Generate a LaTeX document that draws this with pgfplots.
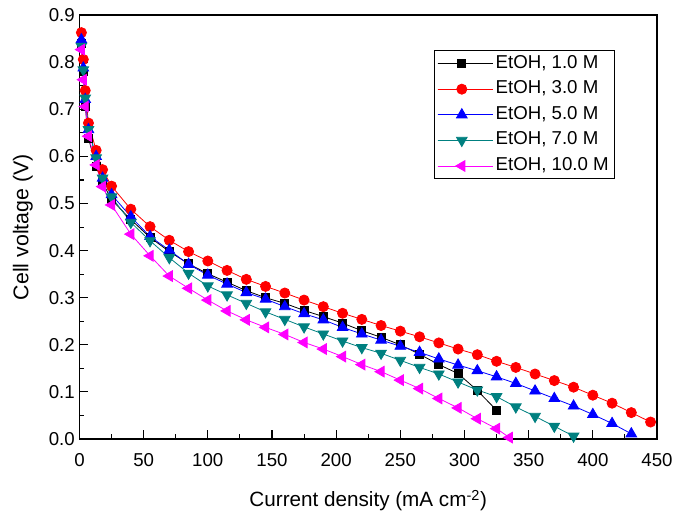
\documentclass[border=0pt]{standalone}
\usepackage{pgfplots}
\pgfplotsset{compat=1.18}
\usepackage{fontspec}
\setmainfont{Liberation Sans}
\definecolor{myteal}{RGB}{0,128,128}
\definecolor{myred}{RGB}{255,0,0}
\definecolor{myblue}{RGB}{0,0,255}
\definecolor{mymag}{RGB}{255,0,255}
\begin{document}
\begin{tikzpicture}
\begin{axis}[
  scale only axis,
  width=433.1pt, height=317.8pt,
  xmin=0, xmax=450, ymin=0, ymax=0.9,
  xtick={0,50,...,450},
  ytick={0,0.1,...,0.9},
  minor x tick num=1, minor y tick num=1,
  tick pos=left, tick align=inside,
  major tick length=6.5pt, minor tick length=3.5pt,
  axis line style={line width=1.2pt},
  every tick/.style={line width=0.8pt, black},
  /pgf/number format/assume math mode=true,
  ticklabel style={font=\fontsize{14}{16}\selectfont},
  yticklabel style={/pgf/number format/.cd,fixed,fixed zerofill,precision=1},
  xticklabel style={anchor=base, yshift=-20.5pt, /pgf/number format/.cd,fixed,precision=0},
  xlabel={Current density (mA cm\textsuperscript{-2})},
  ylabel={Cell voltage (V)},
  xlabel style={font=\fontsize{15.5}{17}\selectfont, at={(axis description cs:0.5,0)}, anchor=base, yshift=-51pt},
  ylabel style={font=\fontsize{16}{18}\selectfont, at={(axis description cs:0,0.5)}, anchor=center, yshift=42.5pt},
  legend style={at={(0.614,0.917)}, anchor=north west, draw=black, line width=0.6pt,
    font=\fontsize{14}{16}\selectfont, row sep=2pt, inner xsep=2pt, inner ysep=1pt,
    nodes={inner sep=2pt, text height=10pt, text depth=3.2pt}},
  legend cell align=left,
  legend image code/.code={\draw[mark repeat=2,mark phase=2] plot coordinates {(0cm,0cm) (0.64cm,0cm) (1.28cm,0cm)};
    \path (0cm,0cm) -- (1.45cm,0cm);},
]
\addplot[black, line width=0.6pt, mark=square*, mark size=3pt, mark options={solid, fill=black}] coordinates {
(1.5,0.84)(3,0.78)(4.5,0.706)(7,0.639)(13,0.578)(18,0.545)(25,0.508)(40,0.466)(55,0.428)(70,0.398)(85,0.372)(100,0.351)(115,0.333)(130,0.315)(145,0.300)(160,0.288)(175,0.273)(190,0.260)(205,0.246)(220,0.230)(235,0.216)(250,0.200)(265,0.180)(280,0.158)(295,0.139)(310,0.103)(325,0.061)};
\addlegendentry{EtOH, 1.0 M}
\addplot[myred, line width=0.6pt, mark=*, mark size=3.8pt, mark options={solid, fill=myred}] coordinates {
(1.5,0.863)(3,0.806)(4.5,0.740)(7,0.671)(13,0.613)(18,0.572)(25,0.537)(40,0.488)(55,0.451)(70,0.422)(85,0.398)(100,0.378)(115,0.358)(130,0.339)(145,0.324)(160,0.310)(175,0.295)(190,0.281)(205,0.267)(220,0.254)(235,0.241)(250,0.229)(265,0.217)(280,0.204)(295,0.191)(310,0.179)(325,0.165)(340,0.152)(355,0.138)(370,0.124)(385,0.110)(400,0.093)(415,0.076)(430,0.056)(445,0.036)};
\addlegendentry{EtOH, 3.0 M}
\addplot[myblue, line width=0.6pt, mark=triangle*, mark size=4.6pt, mark options={solid, fill=myblue}] coordinates {
(1.5,0.848)(3,0.788)(4.5,0.721)(7,0.657)(13,0.600)(18,0.554)(25,0.519)(40,0.472)(55,0.430)(70,0.401)(85,0.371)(100,0.348)(115,0.329)(130,0.311)(145,0.297)(160,0.281)(175,0.266)(190,0.253)(205,0.237)(220,0.223)(235,0.210)(250,0.197)(265,0.184)(280,0.170)(295,0.157)(310,0.145)(325,0.132)(340,0.118)(355,0.102)(370,0.086)(385,0.070)(400,0.052)(415,0.033)(430,0.011)};
\addlegendentry{EtOH, 5.0 M}
\addplot[myteal, line width=0.6pt, mark=triangle*, mark size=4.6pt, mark options={solid, fill=myteal, rotate=180}] coordinates {
(1.5,0.834)(3,0.784)(4.5,0.724)(7,0.657)(13,0.597)(18,0.554)(25,0.514)(40,0.460)(55,0.421)(70,0.385)(85,0.352)(100,0.325)(115,0.306)(130,0.288)(145,0.270)(160,0.254)(175,0.238)(190,0.223)(205,0.208)(220,0.194)(235,0.182)(250,0.167)(265,0.152)(280,0.138)(295,0.121)(310,0.104)(325,0.090)(340,0.068)(355,0.048)(370,0.027)(385,0.006)};
\addlegendentry{EtOH, 7.0 M}
\addplot[mymag, line width=0.6pt, mark=triangle*, mark size=4.6pt, mark options={solid, fill=mymag, rotate=90}] coordinates {
(1.5,0.827)(3,0.763)(4.5,0.706)(7,0.643)(13,0.582)(18,0.536)(25,0.497)(40,0.435)(55,0.389)(70,0.346)(85,0.320)(100,0.295)(115,0.272)(130,0.253)(145,0.237)(160,0.222)(175,0.205)(190,0.191)(205,0.175)(220,0.158)(235,0.143)(250,0.125)(265,0.107)(280,0.086)(295,0.066)(310,0.043)(325,0.022)(335,0.003)};
\addlegendentry{EtOH, 10.0 M}
\end{axis}
\pgfresetboundingbox
\path[use as bounding box] (-59.6pt,-54.2pt) rectangle (446.6pt,329.2pt);
\end{tikzpicture}
\end{document}
